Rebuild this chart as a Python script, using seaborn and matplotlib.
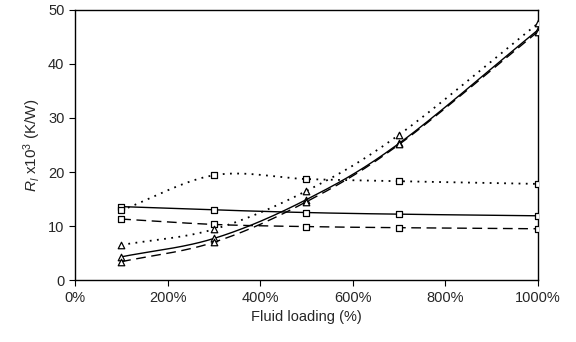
import numpy as np
import pandas as pd
import matplotlib
matplotlib.use("Agg")
import matplotlib.pyplot as plt
import seaborn as sns

loading = [100, 300, 500, 700, 1000]
sq_solid = [13.6, 13.0, 12.5, 12.2, 11.9]
sq_dashed = [11.3, 10.3, 9.9, 9.7, 9.5]
sq_dotted = [12.9, 19.4, 18.7, 18.3, 17.8]
tri_solid = [4.3, 7.7, 14.9, 25.3, 46.3]
tri_dashed = [3.4, 7.0, 14.5, 25.1, 46.0]
tri_dotted = [6.5, 9.4, 16.5, 26.9, 47.5]
xticks = [0, 200, 400, 600, 800, 1000]
xticklabels = ["0%", "200%", "400%", "600%", "800%", "1000%"]
yticks = [0, 10, 20, 30, 40, 50]

sns.set_style("ticks")
plt.rcParams['font.family'] = ['Liberation Sans', 'DejaVu Sans']
plt.rcParams['mathtext.fontset'] = 'custom'
plt.rcParams['mathtext.rm'] = 'Liberation Sans'
plt.rcParams['mathtext.it'] = 'Liberation Sans:italic'

fig = plt.figure(figsize=(5.76, 3.42), dpi=100)
ax = fig.add_axes([0.130, 0.181, 0.804, 0.790])


def smooth(xs, ys, n=40):
    # Catmull-Rom rendering of the line through the data points (display normalized)
    xs = np.asarray(xs, float) / 1000.0
    ys = np.asarray(ys, float) / 50.0
    P = np.column_stack([xs, ys])
    P = np.vstack([P[0] - (P[1] - P[0]), P, P[-1] + (P[-1] - P[-2])])
    out = []
    for i in range(1, len(P) - 2):
        p0, p1, p2, p3 = P[i - 1], P[i], P[i + 1], P[i + 2]
        t = np.linspace(0, 1, n)[:, None]
        seg = 0.5 * ((2 * p1) + (-p0 + p2) * t + (2 * p0 - 5 * p1 + 4 * p2 - p3) * t ** 2
                     + (-p0 + 3 * p1 - 3 * p2 + p3) * t ** 3)
        out.append(seg if i == 1 else seg[1:])
    out = np.vstack(out)
    return out[:, 0] * 1000.0, out[:, 1] * 50.0


series = [
    (sq_solid, "s", "-", 1.0),
    (sq_dashed, "s", (0, (7, 4)), 1.0),
    (sq_dotted, "s", (0, (1, 3)), 1.3),
    (tri_solid, "^", "-", 1.0),
    (tri_dashed, "^", (0, (7, 4)), 1.0),
    (tri_dotted, "^", (0, (1, 3)), 1.3),
]

for i, (vals, mk, ls, lw) in enumerate(series):
    sx, sy = smooth(loading, vals)
    d = pd.DataFrame({"x": sx, "y": sy})
    sns.lineplot(data=d, x="x", y="y", ax=ax, color="black", lw=lw,
                 linestyle=ls, sort=False, estimator=None)
    dm = pd.DataFrame({"x": loading, "y": vals})
    sns.scatterplot(data=dm, x="x", y="y", ax=ax, marker=mk, s=22,
                    facecolor="white", edgecolor="black", linewidth=0.9, zorder=5)

ax.set_xlim(0, 1000)
ax.set_ylim(0, 50)
ax.set_xticks(xticks)
ax.set_xticklabels(xticklabels)
ax.set_yticks(yticks)
ax.tick_params(labelsize=10.5, length=4, width=0.8, direction="out", color="black")
for s in ax.spines.values():
    s.set_visible(True)
    s.set_linewidth(1.0)
    s.set_color("black")
ax.set_xlabel("Fluid loading (%)", fontsize=10.5)
ax.set_ylabel(r"$R_l$ x10$^3$ (K/W)", fontsize=11)
fig.savefig("out.png", dpi=100)
